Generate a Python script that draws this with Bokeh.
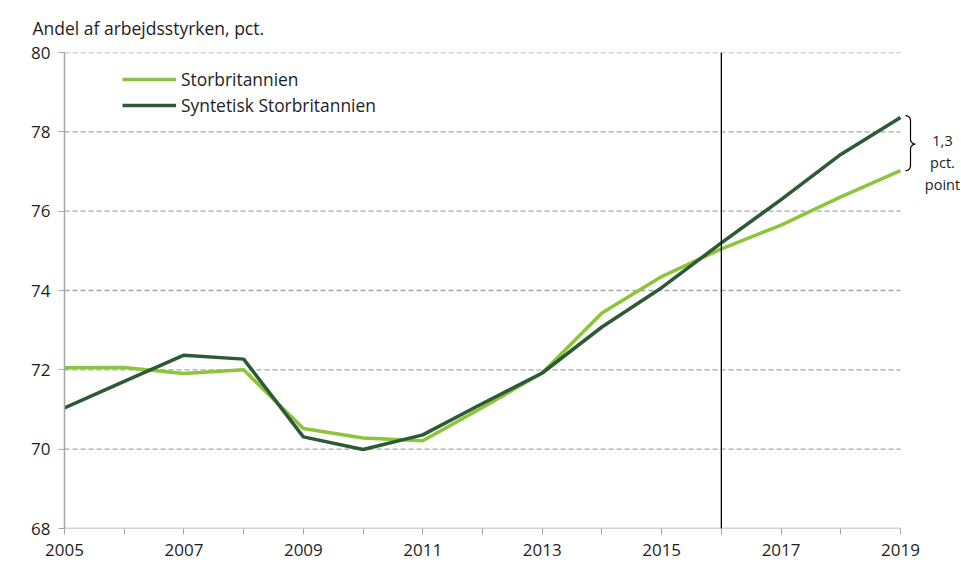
import numpy as np
from bokeh.plotting import figure
from bokeh.models import (Range1d, FixedTicker, Legend, LegendItem, Span, Label,
                          PolyAnnotation, Title)
from bokeh.embed import file_html
from bokeh.resources import INLINE

# ---- data ----
years = list(range(2005, 2020))
storbritannien = [72.05, 72.06, 71.91, 72.0, 70.52, 70.28, 70.21, 71.05, 71.92,
                  73.43, 74.35, 75.05, 75.65, 76.36, 77.02]
syntetisk = [71.04, 71.71, 72.37, 72.27, 70.31, 69.99, 70.36, 71.15, 71.92,
             73.08, 74.07, 75.2, 76.29, 77.43, 78.36]
major_years = [2005, 2007, 2009, 2011, 2013, 2015, 2017, 2019]
minor_years = [2006, 2008, 2010, 2012, 2014, 2016, 2018]
y_ticks = [68, 70, 72, 74, 76, 78, 80]
break_year = 2016
title_text = "Andel af arbejdsstyrken, pct."
gap_text = ["1,3", "pct.", "point"]
names = ["Storbritannien", "Syntetisk Storbritannien"]

LIGHT = "#8cc43a"
DARK = "#2b5a34"
GRID = "#a6a6a6"
TXT = "#1e1e1e"
FONT = "Open Sans"

W, H = 960, 572
FL, FT, FB = 64, 51, 44          # frame left / top / bottom borders
px_x = 14 / 836.0                # years per pixel (2005..2019 over 836 px)
x_end = 2005 + (W - FL) * px_x
p = figure(width=W, height=H, output_backend="svg", toolbar_location=None,
           x_range=Range1d(2005, x_end), y_range=Range1d(68, 80),
           min_border_left=FL, min_border_right=0, min_border_top=FT,
           min_border_bottom=FB)
p.outline_line_color = None
p.background_fill_color = "white"

# axes
p.xaxis.ticker = FixedTicker(ticks=major_years, minor_ticks=minor_years)
p.yaxis.ticker = FixedTicker(ticks=y_ticks)
for ax in (p.xaxis, p.yaxis):
    ax.axis_line_color = GRID
    ax.axis_line_width = 1.5
    ax.major_tick_line_color = GRID
    ax.minor_tick_line_color = GRID
    ax.major_tick_in = 0
    ax.minor_tick_in = 0
    ax.major_tick_out = 6
    ax.minor_tick_out = 6
    ax.major_label_text_font = FONT
    ax.major_label_text_font_size = "17px"
    ax.major_label_text_color = TXT
p.xaxis.axis_line_color = None
p.yaxis.minor_tick_line_color = None
p.yaxis.major_label_standoff = 8
p.xaxis.major_label_standoff = 9

p.xgrid.grid_line_color = None
p.ygrid.grid_line_color = None

# dashed grid lines (from the y ticks) and x axis base line
grid_y = [t for t in y_ticks if t != y_ticks[0]]
p.segment(x0=[years[0]] * len(grid_y), x1=[years[-1]] * len(grid_y),
          y0=grid_y, y1=grid_y, line_color=GRID, line_dash="5 3", line_width=1.3)
p.segment(x0=[years[0]], x1=[years[-1]], y0=[y_ticks[0]], y1=[y_ticks[0]],
          line_color=GRID, line_width=1.5)

# lines
r1 = p.line(years, storbritannien, line_color=LIGHT, line_width=3.5)
r2 = p.line(years, syntetisk, line_color=DARK, line_width=3.5)

# vertical line
p.add_layout(Span(location=break_year, dimension="height", line_color="black",
                  line_width=1.3))

legend = Legend(items=[LegendItem(label=names[0], renderers=[r1]),
                       LegendItem(label=names[1], renderers=[r2])],
                location=(58, 410), orientation="vertical",
                glyph_width=54, glyph_height=26, label_standoff=5,
                padding=0, margin=0, spacing=0,
                border_line_color=None, background_fill_alpha=0,
                label_text_font=FONT, label_text_font_size="17.4px",
                label_text_color=TXT, label_height=26)
p.add_layout(legend)

# title
p.add_layout(Title(text=title_text, align="left", offset=-32, standoff=26,
                   text_font=FONT, text_font_size="17.5px", text_color=TXT,
                   text_font_style="normal"), "above")

# brace between the two end values
px_y = (80 - 68) / 477.0
yt, yb = syntetisk[-1], storbritannien[-1]
ym = (yt + yb) / 2
r = 5
xs, ys = [], []
def arc(cx, cy, a0, a1, n=8):
    for a in np.linspace(np.radians(a0), np.radians(a1), n):
        xs.append(years[-1] + (cx + r * np.cos(a)) * px_x)
        ys.append(cy + r * np.sin(a) * px_y)
arc(5, yt + 2 * px_y - r * px_y, 90, 0)
arc(15, ym + r * px_y, 180, 270)
arc(15, ym - r * px_y, 90, 180)
arc(5, yb + r * px_y, 0, -90)
xs_full = xs + xs[::-1]
ys_full = ys + ys[::-1]
p.add_layout(PolyAnnotation(xs=xs_full, ys=ys_full, line_color="black",
                            line_alpha=1.0, line_width=1.2, fill_alpha=0))

# gap text
for i, t in enumerate(gap_text):
    p.add_layout(Label(x=years[-1], y=ym, x_offset=42, y_offset=3 - 21.7 * i,
                       text=t, text_font=FONT, text_font_size="14.5px",
                       text_color=TXT, text_align="center",
                       text_baseline="middle"))

open("out.html", "w").write(file_html(p, INLINE))
